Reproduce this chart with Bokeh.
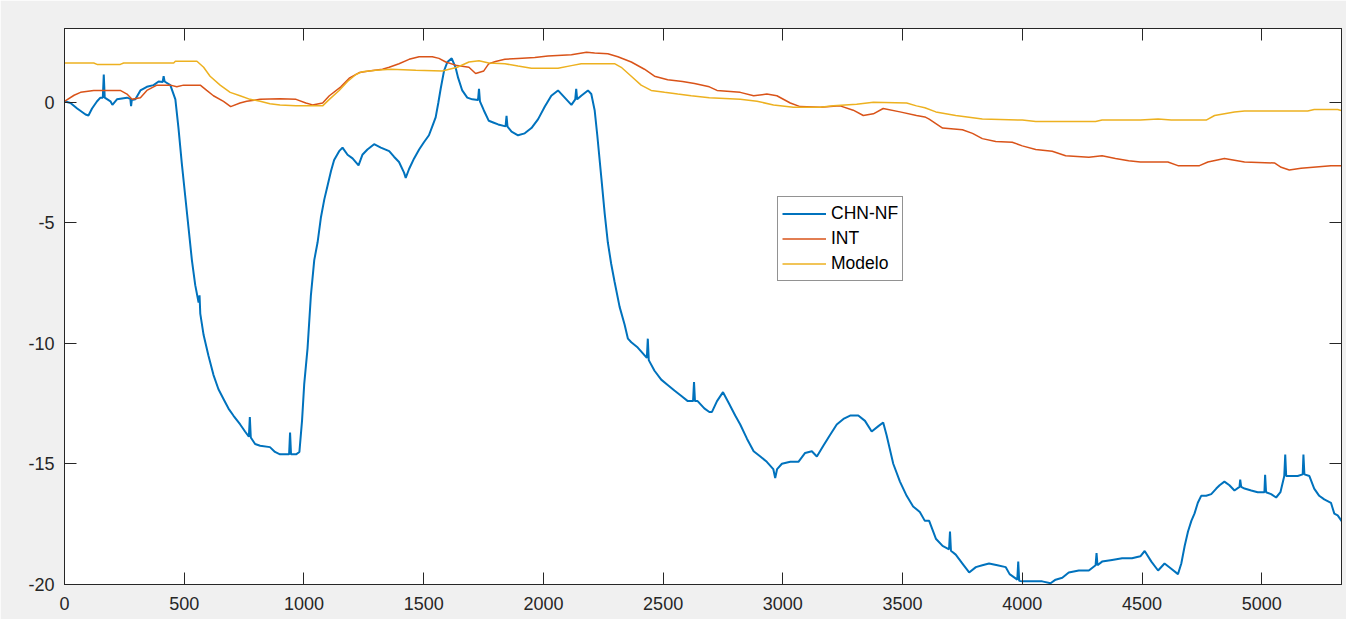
from bokeh.plotting import figure
from bokeh.models import (LinearAxis, FixedTicker, Range1d, Legend, LegendItem,
                          CustomLabelingPolicy)
from bokeh.embed import file_html
from bokeh.resources import INLINE

# ---------------- data ----------------
chn_nf_x = [
    0, 25, 53, 88, 100, 115, 136, 150, 160, 164,
    168, 192, 200, 219, 261, 275, 278, 281, 296, 317,
    344, 372, 393, 410, 414, 418, 442, 463, 476, 490,
    504, 518, 532, 546, 560, 564, 567, 581, 601, 622,
    643, 664, 685, 706, 733, 754, 770, 774, 778, 796,
    817, 858, 879, 900, 920, 938, 942, 946, 967, 981,
    992, 1001, 1015, 1029, 1043, 1057, 1071, 1085, 1099, 1113,
    1126, 1147, 1161, 1182, 1203, 1228, 1244, 1265, 1293, 1321,
    1356, 1376, 1397, 1418, 1425, 1439, 1460, 1481, 1501, 1522,
    1536, 1550, 1561, 1571, 1585, 1599, 1617, 1633, 1644, 1661,
    1682, 1703, 1727, 1731, 1735, 1751, 1772, 1793, 1811, 1842,
    1846, 1850, 1867, 1894, 1922, 1950, 1978, 2006, 2033, 2061,
    2089, 2117, 2133, 2137, 2141, 2158, 2186, 2200, 2214, 2225,
    2242, 2256, 2269, 2283, 2297, 2318, 2339, 2353, 2367, 2394,
    2432, 2436, 2440, 2464, 2492, 2519, 2547, 2575, 2603, 2625,
    2629, 2633, 2644, 2672, 2693, 2704, 2725, 2750, 2774, 2801,
    2822, 2850, 2878, 2906, 2933, 2960, 2968, 2976, 2996, 3031,
    3065, 3093, 3121, 3142, 3169, 3197, 3225, 3253, 3281, 3315,
    3343, 3371, 3399, 3419, 3433, 3461, 3489, 3517, 3544, 3572,
    3593, 3611, 3639, 3667, 3694, 3698, 3702, 3722, 3750, 3778,
    3806, 3833, 3861, 3896, 3931, 3947, 3979, 3983, 3987, 4000,
    4042, 4083, 4118, 4139, 4167, 4194, 4236, 4278, 4306, 4310,
    4314, 4333, 4375, 4417, 4458, 4493, 4511, 4539, 4567, 4594,
    4622, 4650, 4664, 4678, 4692, 4706, 4719, 4733, 4747, 4768,
    4789, 4810, 4824, 4844, 4865, 4886, 4907, 4910, 4914, 4928,
    4956, 4983, 5011, 5014, 5018, 5039, 5060, 5078, 5094, 5098,
    5102, 5122, 5150, 5171, 5174, 5178, 5199, 5219, 5240, 5261,
    5289, 5303, 5317, 5338,
]
chn_nf_y = [
    0.05, -0.02, -0.25, -0.5, -0.54, -0.25, 0.05, 0.2, 0.2, 1.16,
    0.2, 0.05, -0.1, 0.13, 0.2, 0.15, -0.15, 0.1, 0.13, 0.5,
    0.65, 0.72, 0.87, 0.85, 1.09, 0.87, 0.72, 0.13, -1.06, -2.54,
    -3.87, -5.2, -6.54, -7.58, -8.3, -8.0, -8.76, -9.65, -10.5, -11.3,
    -11.9, -12.3, -12.7, -13.0, -13.35, -13.65, -13.87, -13.05, -13.9, -14.17,
    -14.24, -14.3, -14.5, -14.6, -14.6, -14.6, -13.7, -14.6, -14.6, -14.5,
    -13.2, -11.7, -10.2, -8.0, -6.54, -5.8, -4.76, -4.02, -3.43, -2.84,
    -2.39, -2.02, -1.87, -2.17, -2.32, -2.61, -2.17, -1.95, -1.73, -1.87,
    -2.02, -2.25, -2.47, -2.91, -3.13, -2.76, -2.32, -1.95, -1.65, -1.36,
    -0.99, -0.62, -0.02, 0.57, 1.31, 1.68, 1.83, 1.46, 1.02, 0.5,
    0.2, 0.13, 0.1, 0.57, 0.05, -0.32, -0.76, -0.84, -0.91, -0.99,
    -0.55, -1.0, -1.21, -1.36, -1.28, -1.06, -0.69, -0.17, 0.28, 0.5,
    0.2, -0.1, 0.13, 0.57, 0.13, 0.28, 0.5, 0.35, -0.32, -1.36,
    -3.13, -4.61, -5.8, -6.69, -7.43, -8.47, -9.21, -9.8, -9.95, -10.17,
    -10.6, -9.8, -10.69, -11.13, -11.5, -11.72, -11.95, -12.17, -12.39, -12.39,
    -11.6, -12.39, -12.39, -12.69, -12.84, -12.84, -12.39, -12.02, -12.47, -12.99,
    -13.36, -13.95, -14.47, -14.69, -14.91, -15.21, -15.58, -15.21, -14.99, -14.91,
    -14.91, -14.54, -14.47, -14.69, -14.24, -13.8, -13.36, -13.13, -12.99, -12.99,
    -13.21, -13.65, -13.43, -13.28, -13.8, -14.99, -15.73, -16.32, -16.76, -16.99,
    -17.36, -17.36, -18.1, -18.4, -18.54, -17.8, -18.6, -18.76, -19.13, -19.5,
    -19.28, -19.2, -19.13, -19.2, -19.28, -19.57, -19.8, -19.05, -19.85, -19.87,
    -19.87, -19.87, -19.95, -19.8, -19.72, -19.5, -19.42, -19.42, -19.2, -18.7,
    -19.2, -19.05, -18.98, -18.91, -18.91, -18.83, -18.61, -19.05, -19.42, -19.13,
    -19.35, -19.57, -19.13, -18.4, -17.8, -17.36, -17.06, -16.61, -16.32, -16.32,
    -16.25, -16.02, -15.88, -15.73, -15.88, -16.1, -15.95, -15.65, -15.95, -16.02,
    -16.1, -16.17, -16.17, -15.45, -16.17, -16.25, -16.39, -16.17, -15.5, -14.61,
    -15.5, -15.5, -15.5, -15.43, -14.61, -15.43, -15.5, -16.02, -16.32, -16.47,
    -16.61, -17.06, -17.13, -17.43,
]

int_x = [
    0, 40, 67, 122, 233, 261, 282, 317, 344, 386,
    442, 469, 497, 567, 594, 622, 664, 694, 733, 761,
    817, 900, 967, 1008, 1036, 1078, 1106, 1154, 1189, 1231,
    1272, 1328, 1356, 1397, 1439, 1481, 1536, 1564, 1592, 1640,
    1689, 1717, 1751, 1772, 1800, 1839, 1894, 1964, 2019, 2117,
    2180, 2214, 2269, 2311, 2367, 2422, 2464, 2519, 2581, 2631,
    2693, 2725, 2822, 2878, 2933, 2975, 3031, 3072, 3156, 3239,
    3294, 3336, 3378, 3419, 3489, 3558, 3593, 3611, 3667, 3750,
    3792, 3833, 3889, 3958, 4000, 4056, 4125, 4181, 4278, 4333,
    4389, 4444, 4493, 4608, 4650, 4740, 4775, 4844, 4928, 5053,
    5081, 5115, 5164, 5289, 5338,
]
int_y = [
    0.05, 0.3, 0.42, 0.5, 0.5, 0.35, 0.13, 0.2, 0.5, 0.72,
    0.72, 0.65, 0.72, 0.72, 0.5, 0.28, 0.05, -0.17, -0.02, 0.05,
    0.13, 0.16, 0.13, -0.02, -0.1, -0.02, 0.28, 0.65, 1.01, 1.24,
    1.31, 1.38, 1.46, 1.61, 1.79, 1.9, 1.9, 1.83, 1.68, 1.53,
    1.46, 1.2, 1.31, 1.61, 1.7, 1.79, 1.83, 1.87, 1.93, 1.98,
    2.08, 2.05, 2.02, 1.9, 1.68, 1.38, 1.09, 0.94, 0.87, 0.79,
    0.65, 0.5, 0.42, 0.28, 0.35, 0.28, -0.02, -0.17, -0.2, -0.14,
    -0.32, -0.54, -0.47, -0.25, -0.39, -0.54, -0.6, -0.69, -1.06, -1.13,
    -1.28, -1.5, -1.62, -1.65, -1.8, -1.95, -2.02, -2.21, -2.27, -2.21,
    -2.32, -2.42, -2.47, -2.47, -2.62, -2.62, -2.47, -2.32, -2.47, -2.51,
    -2.69, -2.8, -2.73, -2.62, -2.62,
]

modelo_x = [
    0, 122, 136, 233, 247, 456, 463, 553, 581, 608,
    650, 692, 733, 775, 817, 858, 900, 967, 1078, 1106,
    1147, 1182, 1217, 1244, 1300, 1363, 1467, 1578, 1640, 1689,
    1731, 1772, 1839, 1894, 1950, 2061, 2117, 2158, 2297, 2325,
    2367, 2408, 2450, 2506, 2561, 2617, 2693, 2822, 2892, 2961,
    3044, 3156, 3211, 3308, 3378, 3517, 3558, 3593, 3639, 3722,
    3833, 4000, 4056, 4306, 4333, 4493, 4567, 4622, 4768, 4803,
    4886, 4928, 5192, 5219, 5317, 5338,
]
modelo_y = [
    1.64, 1.64, 1.58, 1.58, 1.64, 1.64, 1.71, 1.71, 1.46, 1.09,
    0.72, 0.42, 0.28, 0.13, 0.05, -0.05, -0.1, -0.14, -0.14, 0.13,
    0.5, 0.87, 1.16, 1.28, 1.34, 1.38, 1.34, 1.31, 1.46, 1.68,
    1.73, 1.64, 1.61, 1.51, 1.42, 1.42, 1.53, 1.61, 1.61, 1.46,
    1.09, 0.72, 0.5, 0.42, 0.35, 0.28, 0.2, 0.13, 0.05, -0.1,
    -0.2, -0.2, -0.14, -0.07, 0.01, -0.02, -0.14, -0.22, -0.39, -0.54,
    -0.69, -0.73, -0.79, -0.79, -0.73, -0.73, -0.69, -0.73, -0.73, -0.54,
    -0.39, -0.35, -0.35, -0.29, -0.29, -0.35,
]

series_labels = ["CHN-NF", "INT", "Modelo"]
series_colors = ["#0072BD", "#D95319", "#EDB120"]
x_ticks = [0, 500, 1000, 1500, 2000, 2500, 3000, 3500, 4000, 4500, 5000]
y_ticks = [-20, -15, -10, -5, 0]

# ---------------- figure ----------------
FONT = "Liberation Sans"
AX = "#262626"

p = figure(width=1346, height=619, output_backend="svg", toolbar_location=None,
           x_range=Range1d(0, 5333), y_range=Range1d(-20, 3.07),
           min_border_left=64, min_border_top=28, min_border_right=0,
           min_border_bottom=35,
           border_fill_color="#f0f0f0", background_fill_color="white",
           outline_line_color=AX, outline_line_width=1)
p.grid.visible = False

hide_all = CustomLabelingPolicy(code="""
for (const i of Array.from(indices)) { indices.unset(i) }
return indices
""")


def style_axis(ax, show_labels):
    ax.major_tick_in = 12
    ax.major_tick_out = 0
    ax.minor_tick_line_color = None
    ax.axis_line_color = AX
    ax.major_tick_line_color = AX
    ax.major_label_text_font = FONT
    ax.major_label_text_color = AX
    if show_labels:
        ax.major_label_text_font_size = "18px"
    else:
        ax.major_label_text_font_size = "1px"
        ax.major_label_standoff = 0
        ax.major_label_policy = hide_all


p.xaxis.ticker = FixedTicker(ticks=x_ticks)
p.yaxis.ticker = FixedTicker(ticks=y_ticks)
style_axis(p.xaxis[0], True)
style_axis(p.yaxis[0], True)
p.xaxis.major_label_standoff = 12
p.yaxis.major_label_standoff = 10
# MATLAB writes negative tick labels with a plain hyphen
p.yaxis.major_label_overrides = {t: str(t) for t in y_ticks}

top = LinearAxis(ticker=FixedTicker(ticks=x_ticks))
style_axis(top, False)
p.add_layout(top, "above")
right = LinearAxis(ticker=FixedTicker(ticks=y_ticks))
style_axis(right, False)
p.add_layout(right, "right")

r1 = p.line(chn_nf_x, chn_nf_y, line_color=series_colors[0], line_width=2)
r2 = p.line(int_x, int_y, line_color=series_colors[1], line_width=1.5)
r3 = p.line(modelo_x, modelo_y, line_color=series_colors[2], line_width=1.5)

legend = Legend(items=[LegendItem(label=series_labels[0], renderers=[r1]),
                       LegendItem(label=series_labels[1], renderers=[r2]),
                       LegendItem(label=series_labels[2], renderers=[r3])],
                location=(713, 303),
                border_line_color=AX, border_line_width=1,
                background_fill_color="white", background_fill_alpha=1,
                label_text_font=FONT, label_text_font_size="17.5px",
                label_text_color="#000000",
                glyph_width=44, glyph_height=25, label_height=25,
                label_standoff=5, spacing=0, padding=4, margin=0)
p.add_layout(legend)

open("out.html", "w").write(file_html(p, INLINE))
